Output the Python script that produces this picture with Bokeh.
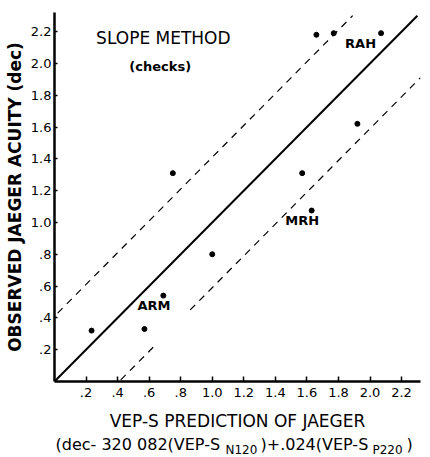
from bokeh.plotting import figure
from bokeh.layouts import column
from bokeh.models import Label, FixedTicker, Range1d
from bokeh.embed import file_html
from bokeh.resources import INLINE
from bokeh.core.properties import value

# ---- data ----
tick_values = [0.2, 0.4, 0.6, 0.8, 1.0, 1.2, 1.4, 1.6, 1.8, 2.0, 2.2]
tick_labels = [".2", ".4", ".6", ".8", "1.0", "1.2", "1.4", "1.6", "1.8", "2.0", "2.2"]

predicted = [0.235, 0.57, 0.69, 1.00, 0.75, 1.63, 1.57, 1.92, 1.66, 1.77, 2.07]
observed = [0.32, 0.33, 0.54, 0.80, 1.31, 1.075, 1.31, 1.62, 2.18, 2.19, 2.19]

identity_x = [0.0, 2.30]
band = 0.41
upper_segments_x = [[0.02, 1.89]]
lower_segments_x = [[0.42, 0.63], [0.86, 2.32]]

subject_names = ["ARM", "MRH", "RAH"]
subject_x = [0.63, 1.57, 1.94]
subject_y = [0.478, 1.01, 2.126]

# formula line: main text pieces and subscripts
formula_main = ["(dec- 320  082(VEP-S", ")+.024(VEP-S", ")"]
formula_main_left = [55, 260, 406]
formula_sub = ["N120", "P220"]
formula_sub_left = [225, 372]

FONT = "DejaVu Sans"

p = figure(width=430, height=434, x_range=Range1d(0, 2.32), y_range=Range1d(0, 2.32),
           output_backend="svg", toolbar_location=None,
           min_border_left=54, min_border_right=10, min_border_top=12, min_border_bottom=53)
p.xgrid.visible = False
p.ygrid.visible = False
p.outline_line_color = None
p.background_fill_color = "white"
p.border_fill_color = "white"

for ax in (p.xaxis[0], p.yaxis[0]):
    ax.ticker = FixedTicker(ticks=tick_values)
    ax.major_label_overrides = {t: l for t, l in zip(tick_values, tick_labels)}
    ax.axis_line_color = "black"
    ax.axis_line_width = 2.5
    ax.major_tick_line_color = "black"
    ax.major_tick_line_width = 1.5
    ax.minor_tick_line_color = None
    ax.major_tick_out = 0
    ax.major_label_text_font = FONT
    ax.major_label_text_font_size = "13px"
    ax.major_label_text_color = "black"
    ax.axis_label_text_color = "black"
    ax.axis_label_text_font = FONT
p.xaxis.major_tick_in = 5
p.yaxis.major_tick_in = 3
p.xaxis.major_label_standoff = 6
p.yaxis.major_label_standoff = 3

p.yaxis.axis_label = "OBSERVED JAEGER ACUITY (dec)"
p.yaxis.axis_label_text_font_size = "17px"
p.yaxis.axis_label_text_font_style = "bold"
p.yaxis.axis_label_standoff = 3

p.xaxis.axis_label = "VEP-S PREDICTION OF JAEGER"
p.xaxis.axis_label_text_font_size = "17px"
p.xaxis.axis_label_text_font_style = "normal"
p.xaxis.axis_label_standoff = 11

p.line(identity_x, identity_x, line_color="black", line_width=2)
p.multi_line(upper_segments_x, [[v + band for v in seg] for seg in upper_segments_x],
             line_color="black", line_width=1.2, line_dash="7 6")
p.multi_line(lower_segments_x, [[v - band for v in seg] for seg in lower_segments_x],
             line_color="black", line_width=1.2, line_dash="7 6")
p.scatter(predicted, observed, size=5, color="black")

for n, x, y in zip(subject_names, subject_x, subject_y):
    p.add_layout(Label(x=x, y=y, text=n, text_align="center", text_baseline="middle",
                       text_font=FONT, text_font_size="13px", text_font_style="bold", text_color="black"))

p.add_layout(Label(x=0.69, y=2.157, text="SLOPE METHOD", text_align="center", text_baseline="middle",
                   text_font=FONT, text_font_size="17px", text_color="black"))
p.add_layout(Label(x=0.67, y=1.98, text="(checks)", text_align="center", text_baseline="middle",
                   text_font=FONT, text_font_size="13px", text_font_style="bold", text_color="black"))

# formula strip below (its frame lines up with the main plot's frame)
p2 = figure(width=430, height=23, x_range=Range1d(54, 420), y_range=Range1d(0, 23),
            output_backend="svg", toolbar_location=None, x_axis_location=None, y_axis_location=None,
            min_border_left=54, min_border_right=10, min_border_top=0, min_border_bottom=0)
p2.xgrid.visible = False
p2.ygrid.visible = False
p2.outline_line_color = None
p2.border_fill_color = "white"
p2.text(formula_main_left, [13] * len(formula_main), text=formula_main, text_align="left",
        text_baseline="middle", text_font=value(FONT), text_font_size="16px", text_color="black")
p2.text(formula_sub_left, [8] * len(formula_sub), text=formula_sub, text_align="left",
        text_baseline="middle", text_font=value(FONT), text_font_size="12px", text_color="black")

layout = column(p, p2, spacing=0)
open("out.html", "w").write(file_html(layout, INLINE))
